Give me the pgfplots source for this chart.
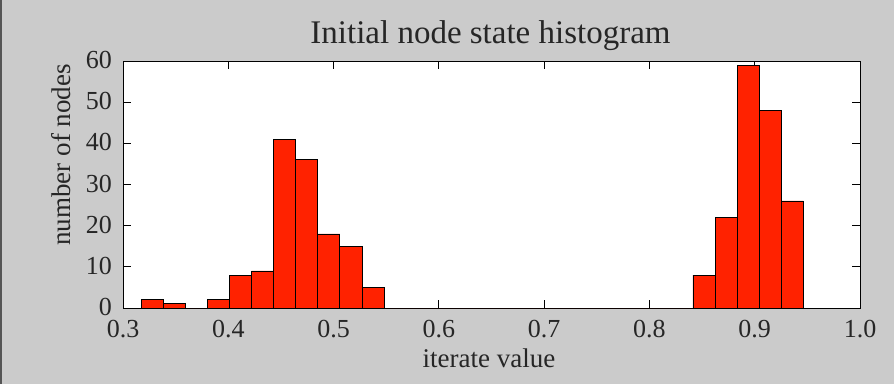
\documentclass[border=0pt]{standalone}
\usepackage{pgfplots}
\pgfplotsset{compat=1.18}
\usepackage{fontspec}
\setmainfont{Liberation Serif}
\definecolor{bg}{RGB}{203,203,203}
\definecolor{barred}{RGB}{255,34,0}
\definecolor{edge}{RGB}{85,85,85}
\begin{document}
\begin{tikzpicture}[x=1pt,y=1pt]
\fill[bg] (0,0) rectangle (894,384);
\fill[edge] (0,0) rectangle (2,384);
\begin{axis}[
  at={(123pt,76pt)}, anchor=south west,
  scale only axis, width=737pt, height=247pt,
  xmin=0.3, xmax=1.0, ymin=0, ymax=60,
  xtick={0.3,0.4,0.5,0.6,0.7,0.8,0.9,1.0},
  xticklabels={0.3,0.4,0.5,0.6,0.7,0.8,0.9,1.0},
  ytick={0,10,20,30,40,50,60},
  tick align=inside, major tick length=8pt,
  tick style={black, line width=0.8pt},
  axis line style={black, line width=1pt},
  axis background/.style={fill=white},
  /pgf/number format/assume math mode=true,
  ticklabel style={font=\fontsize{26}{26}\selectfont, text=black!85, inner sep=0pt},
  xticklabel style={yshift=-12pt},
  yticklabel style={xshift=-11pt, yshift=1pt},
  clip=false,
]
\addplot[ybar interval, fill=barred, draw=black, line width=0.8pt] coordinates {
(0.3174,2) (0.3384,1) (0.3593,0) (0.3803,2) (0.4012,8) (0.4222,9)
(0.4432,41) (0.4641,36) (0.4851,18) (0.5060,15) (0.5270,5) (0.5479,0)
(0.5689,0) (0.5898,0) (0.6108,0) (0.6318,0) (0.6527,0) (0.6737,0)
(0.6946,0) (0.7156,0) (0.7365,0) (0.7575,0) (0.7784,0) (0.7994,0)
(0.8204,0) (0.8413,8) (0.8623,22) (0.8832,59) (0.9042,48) (0.9251,26)
(0.9461,26)
};
\end{axis}
\node[anchor=base, font=\fontsize{33}{33}\selectfont, text=black!85] at (490.5,341) {Initial node state histogram};
\node[anchor=base, font=\fontsize{27}{27}\selectfont, text=black!85] at (489,17) {iterate value};
\node[anchor=base, rotate=90, font=\fontsize{27}{27}\selectfont, text=black!85] at (70,229) {number of nodes};
\end{tikzpicture}
\end{document}
